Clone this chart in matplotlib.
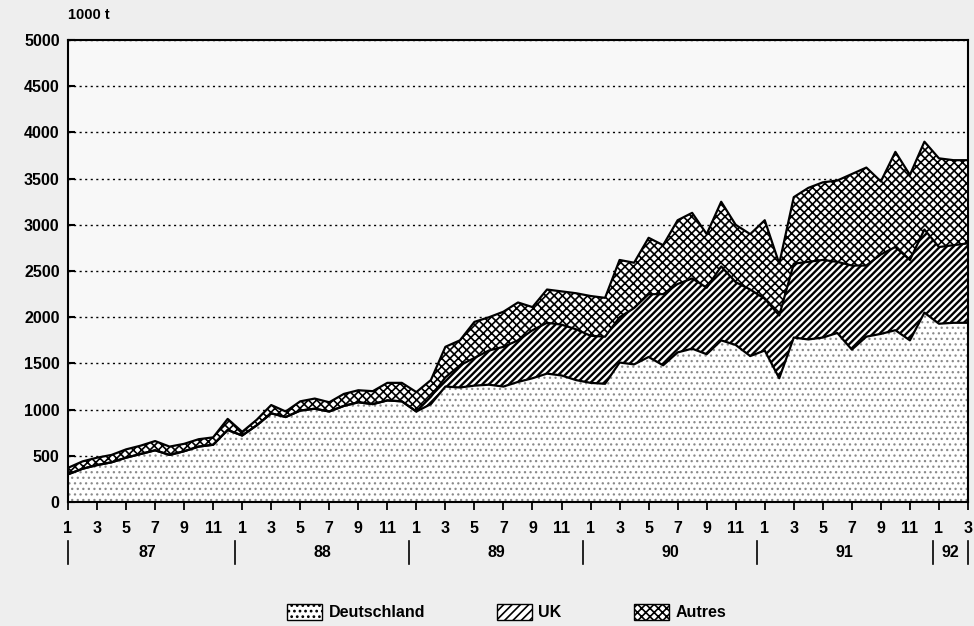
import matplotlib.pyplot as plt
from matplotlib.patches import Patch
import numpy as np

plt.rcParams['font.family'] = ['Liberation Sans', 'DejaVu Sans']
plt.rcParams['font.weight'] = 'bold'

# monthly values, Jan 1987 .. Mar 1992 (1000 t)
deutschland = [300, 360, 400, 430, 480, 520, 560, 510, 550, 600, 620, 780,
               720, 830, 960, 920, 990, 1010, 980, 1040, 1080, 1060, 1100, 1090,
               980, 1060, 1250, 1240, 1260, 1270, 1250, 1300, 1340, 1390, 1370, 1320,
               1290, 1280, 1510, 1490, 1570, 1480, 1620, 1660, 1600, 1750, 1700, 1580,
               1640, 1340, 1780, 1760, 1780, 1830, 1650, 1790, 1820, 1860, 1750, 2050,
               1930, 1940, 1940]
uk = [0] * 24 + [0, 80, 100, 240, 300, 370, 430, 450, 520, 550, 550, 550,
                 510, 510, 490, 610, 680, 770, 740, 760, 720, 800, 680, 720,
                 560, 680, 800, 840, 840, 770, 910, 770, 860, 900, 870, 900,
                 830, 840, 860]
autres = [70, 80, 80, 80, 90, 90, 100, 90, 80, 80, 80, 120,
          40, 60, 90, 60, 100, 110, 100, 130, 130, 140, 190, 200,
          210, 180, 330, 270, 390, 360, 380, 410, 250, 360, 360, 390,
          430, 420, 620, 490, 610, 530, 690, 710, 580, 700, 620, 600,
          850, 560, 720, 800, 840, 880, 990, 1060, 790, 1030, 920, 950,
          960, 920, 900]

month_labels = ['1', '3', '5', '7', '9', '11'] * 5 + ['1', '3']
years = ['87', '88', '89', '90', '91', '92']

x = np.arange(len(deutschland))
d = np.array(deutschland)
u = d + np.array(uk)
t = u + np.array(autres)

fig = plt.figure(figsize=(9.74, 6.26), dpi=100, facecolor='#eeeeee')
ax = fig.add_axes([0.0698, 0.198, 0.9240, 0.738])
ax.set_facecolor('#f8f8f8')

plt.rcParams['hatch.linewidth'] = 0.9
ax.fill_between(x, 0, d, facecolor='white', edgecolor='#8a8a8a', hatch='...', lw=0, zorder=2)
plt.rcParams['hatch.linewidth'] = 1.7
ax.fill_between(x, d, u, facecolor='white', edgecolor='black', hatch='/////', lw=0, zorder=2)
plt.rcParams['hatch.linewidth'] = 1.2
ax.fill_between(x, u, t, facecolor='white', edgecolor='black', hatch='xxxx', lw=0, zorder=2)
for line in (d, u, t):
    ax.plot(x, line, color='black', lw=1.6, zorder=3)

ax.set_xlim(0, len(x) - 1)
ax.set_ylim(0, 5000)
ax.set_yticks(np.arange(0, 5001, 500))
ax.tick_params(axis='y', labelsize=11.5, length=5, direction='in', width=1.5, pad=6)
ax.grid(axis='y', linestyle=(0, (1.5, 2.5)), color='black', lw=1)
ax.set_axisbelow(True)

ax.set_xticks(x[::2])
ax.set_xticklabels(month_labels)
ax.set_xticks(x[1::2], minor=True)
ax.tick_params(axis='x', which='major', direction='inout', length=12, width=1.3, labelsize=11.5, pad=8)
ax.tick_params(axis='x', which='minor', direction='in', length=5, width=1.2)
for s in ax.spines.values():
    s.set_linewidth(1.5)

# year labels and separators
for k, yr in enumerate(years):
    xc = 12 * k + 5.5 if k < 5 else 60.8
    ax.text(xc, -0.11, yr, transform=ax.get_xaxis_transform(), ha='center', va='center',
            fontsize=11.5, fontweight='bold')
for xs in [0, 11.5, 23.5, 35.5, 47.5, 59.6, 62]:
    ax.plot([xs, xs], [-0.085, -0.135], transform=ax.get_xaxis_transform(),
            color='black', lw=1.2, clip_on=False)

fig.text(0.07, 0.965, '1000 t', fontsize=10.5, fontweight='bold', ha='left', va='bottom')

plt.rcParams['hatch.linewidth'] = 1.2
handles = [Patch(facecolor='white', edgecolor='black', hatch='...', label='Deutschland'),
           Patch(facecolor='white', edgecolor='black', hatch='////', label='UK'),
           Patch(facecolor='white', edgecolor='black', hatch='xxxx', label='Autres')]
fig.legend(handles=handles, loc='center', bbox_to_anchor=(0.52, 0.022), ncol=3, frameon=False,
           fontsize=11.5, handlelength=2.2, handleheight=1.1, columnspacing=4.5, handletextpad=0.4)

fig.savefig('out.png', dpi=100, facecolor=fig.get_facecolor())
